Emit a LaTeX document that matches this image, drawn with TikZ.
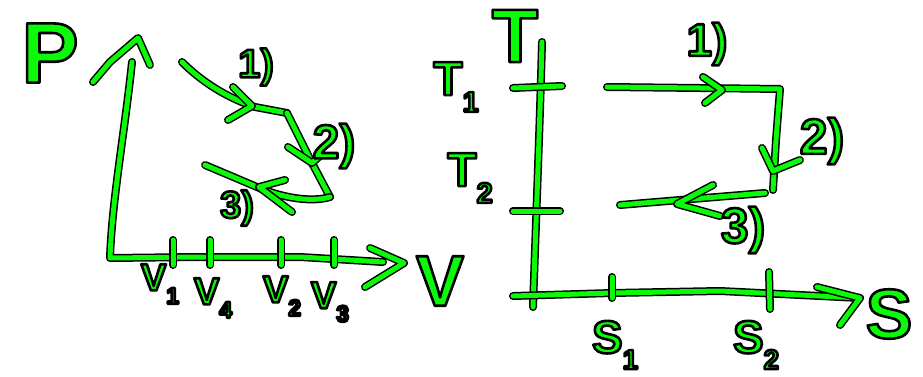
\documentclass[tikz,border=0pt]{standalone}
\usepackage{fontspec}
\setmainfont{Liberation Sans}
\definecolor{pen}{RGB}{10,250,10}
\tikzset{
  ink/.style={line width=5pt, draw=pen, line cap=round, line join=round,
    preaction={draw=black, line width=8pt, line cap=round, line join=round}},
  lbl/.style={text=pen, inner sep=0pt},
}
\newcommand{\hw}[2]{\fontsize{#1}{#1}\selectfont\bfseries\special{pdf:code 0 0 0 RG 2.6 w 1 j 2 Tr}#2\special{pdf:code 0 Tr}}
\newcommand{\sub}[1]{\raisebox{-0.35em}{\fontsize{0.6em}{0.6em}\selectfont #1}}
\begin{document}
\begin{tikzpicture}[x=1pt,y=-1pt]
\useasboundingbox (0,0) rectangle (923,377);
% ---------- P-V diagram ----------
\coordinate (po) at (110,258);
\coordinate (ptop) at (132,62);
\coordinate (vend) at (383,262);
\draw[ink] (ptop) .. controls (125,130) and (112,200) .. (po) -- (200,257) -- (300,257) -- (vend);
% axis arrowheads
\coordinate (pa1) at (93,82); \coordinate (pa2) at (138,38); \coordinate (pa3) at (150,65);
\draw[ink] (pa1) -- (110,62) -- (pa2) -- (pa3);
\coordinate (va1) at (370,248); \coordinate (va2) at (404,263); \coordinate (va3) at (365,287);
\draw[ink] (va1) -- (va2) -- (va3);
% ticks
\foreach \n/\x in {t1/173,t4/210,t2/281,t3/334}{
  \coordinate (\n a) at (\x,240); \coordinate (\n b) at (\x,265);
  \draw[ink] (\n a) -- (\n b);
}
% cycle
\coordinate (c1) at (182,62);
\coordinate (c2) at (287,113);
\coordinate (c3) at (330,197);
\coordinate (c4) at (205,165);
\draw[ink] (c1) .. controls (210,90) and (240,102) .. (255,107) -- (c2);
\draw[ink] (c2) -- (312,163) -- (c3);
\draw[ink] (c3) .. controls (310,203) and (280,197) .. (257,187) -- (c4);
% arrowheads on cycle
\coordinate (a1) at (252,106);
\draw[ink] (233,87) -- (a1) -- (228,120);
\coordinate (a2) at (312,163);
\draw[ink] (288,147) -- (a2) -- (322,154);
\coordinate (a3) at (259,187);
\draw[ink] (285,180) -- (a3) -- (292,212);
% labels
\node[lbl] (P) at (50,53) {\hw{86}{P}};
\node[lbl] (V) at (440,281) {\hw{72}{V}};
\node[lbl] (V1) at (160,284) {\hw{38}{V\sub{1}}};
\node[lbl] (V4) at (213,298) {\hw{38}{V\sub{4}}};
\node[lbl] (V2) at (282,296) {\hw{38}{V\sub{2}}};
\node[lbl] (V3) at (330,302) {\hw{38}{V\sub{3}}};
\node[lbl] (L1) at (256,67) {\hw{40}{1)}};
\node[lbl] (L2) at (334,146) {\hw{48}{2)}};
\node[lbl] (L3) at (237,208) {\hw{38}{3)}};
% ---------- T-S diagram ----------
\coordinate (ttop) at (542,42);
\coordinate (to) at (533,307);
\coordinate (sstart) at (513,296);
\coordinate (send) at (860,298);
\draw[ink] (ttop) .. controls (540,120) and (536,220) .. (to);
\draw[ink] (sstart) -- (612,293) -- (720,291) -- (send);
\coordinate (sa1) at (817,287); \coordinate (sa3) at (840,325);
\draw[ink] (sa1) -- (send) -- (sa3);
% T ticks
\coordinate (tt1a) at (513,88); \coordinate (tt1b) at (562,86);
\draw[ink] (tt1a) -- (tt1b);
\coordinate (tt2a) at (513,211); \coordinate (tt2b) at (560,211);
\draw[ink] (tt2a) -- (tt2b);
% S ticks
\coordinate (s1a) at (612,277); \coordinate (s1b) at (612,298);
\draw[ink] (s1a) -- (s1b);
\coordinate (s2a) at (769,272); \coordinate (s2b) at (770,309);
\draw[ink] (s2a) -- (s2b);
% rectangle cycle
\coordinate (r1) at (607,87);
\coordinate (r2) at (780,89);
\coordinate (r3) at (773,190);
\coordinate (r4) at (765,193);
\coordinate (r5) at (620,205);
\draw[ink] (r1) -- (700,88) -- (r2) -- (776,140) -- (r3);
\draw[ink] (r4) -- (680,200) -- (r5);
\coordinate (b1) at (722,90);
\draw[ink] (703,77) -- (b1) -- (705,103);
\coordinate (b2) at (773,171);
\draw[ink] (762,148) -- (b2) -- (800,160);
\coordinate (b3) at (677,204);
\draw[ink] (713,185) -- (b3) -- (720,216);
% labels
\node[lbl] (T) at (515,36) {\hw{76}{T}};
\node[lbl] (T1) at (456,87) {\hw{48}{T\sub{1}}};
\node[lbl] (T2) at (470,178) {\hw{48}{T\sub{2}}};
\node[lbl] (S) at (889,314) {\hw{70}{S}};
\node[lbl] (S1) at (615,345) {\hw{46}{S\sub{1}}};
\node[lbl] (S2) at (756,345) {\hw{46}{S\sub{2}}};
\node[lbl] (R1) at (707,44) {\hw{46}{1)}};
\node[lbl] (R2) at (822,141) {\hw{50}{2)}};
\node[lbl] (R3) at (743,230) {\hw{50}{3)}};
\end{tikzpicture}
\end{document}
